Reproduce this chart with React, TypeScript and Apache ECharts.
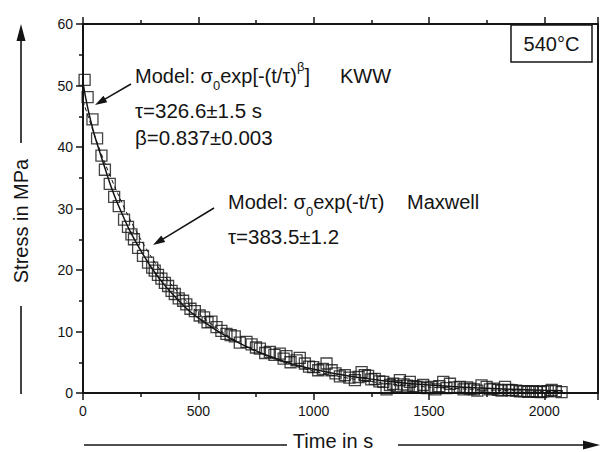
import React, { useEffect, useRef } from "react";
import * as echarts from "echarts";

// ---------- data ----------
const sampleTimes = [
  7, 20, 41, 61, 80, 95, 116, 135, 155, 178,
  195, 210, 221, 239, 260, 282, 300, 311, 325, 340,
  355, 369, 384, 398, 415, 434, 448, 466, 485, 506,
  525, 540, 557, 579, 600, 622, 640, 658, 680, 709,
  731, 750, 767, 790, 810, 830, 853, 870, 882, 900,
  926, 940, 962, 980, 998, 1020, 1040, 1056, 1078, 1095,
  1114, 1135, 1155, 1179, 1195, 1208, 1222, 1236, 1250, 1265,
  1285, 1302, 1316, 1331, 1345, 1360, 1374, 1390, 1405, 1417,
  1432, 1446, 1460, 1475, 1492, 1511, 1528, 1545, 1562, 1576,
  1591, 1610, 1634, 1650, 1665, 1678, 1695, 1710, 1728, 1750,
  1765, 1779, 1800, 1815, 1830, 1845, 1859, 1878, 1895, 1912,
  1931, 1950, 1967, 1985, 1996, 2015, 2032, 2050, 2075,
];
const sampleStress = [
  50.9, 48.1, 44.5, 41.4, 38.6, 36.3, 34.0, 31.9, 30.4, 28.2,
  27.0, 25.8, 25.0, 23.6, 22.3, 21.2, 20.4, 19.9, 19.2, 18.6,
  17.9, 17.4, 16.6, 16.1, 15.4, 15.0, 14.4, 13.7, 13.3, 12.6,
  12.3, 11.5, 11.6, 10.7, 10.1, 9.6, 9.4, 9.2, 8.2, 8.3,
  7.9, 7.4, 7.2, 6.5, 6.7, 6.2, 6.4, 5.6, 6.0, 5.0,
  5.3, 5.7, 4.8, 4.3, 4.2, 3.7, 3.9, 4.8, 3.7, 3.2,
  2.7, 2.9, 2.5, 2.1, 2.6, 3.4, 2.9, 2.8, 2.2, 2.3,
  1.9, 1.8, 0.6, 1.3, 1.5, 1.1, 2.1, 1.4, 1.2, 1.8,
  1.1, 1.0, 0.9, 1.3, 0.8, 1.0, 0.6, 1.1, 1.8, 0.8,
  1.5, 0.9, 1.0, 0.6, 0.9, 0.7, 0.6, 0.4, 1.25, 1.0,
  0.6, 0.7, 0.5, 0.4, 1.0, 0.5, 0.45, 0.4, 0.25, 0.3,
  0.2, 0.3, 0.2, 0.15, 0.25, 0.3, 0.5, 0.3, 0.15,
];

const kwwTimes = [0, 10, 25, 50, 75, 100, 125, 150, 200, 250, 300, 350, 400, 450, 500, 550, 600, 700, 800, 900, 1000, 1100, 1200, 1300, 1400, 1500, 1600, 1700, 1800, 1900, 2000, 2080];
const kwwStress = [50.5, 48.3, 45.6, 41.9, 38.9, 36.0, 33.2, 30.8, 26.6, 23.2, 20.2, 17.7, 15.6, 13.7, 12.2, 10.9, 9.7, 7.7, 6.1, 4.8, 3.85, 3.1, 2.5, 2.0, 1.6, 1.3, 1.05, 0.85, 0.7, 0.55, 0.45, 0.38];

const maxwellTimes = [0, 50, 100, 150, 200, 250, 300, 350, 400, 500, 600, 700, 800, 900, 1000, 1100, 1200, 1300, 1400, 1500, 1600, 1700, 1800, 1900, 2000, 2080];
const maxwellStress = [47.5, 41.9, 36.9, 32.5, 28.5, 25.0, 21.9, 19.2, 16.9, 13.0, 10.0, 7.7, 5.95, 4.6, 3.55, 2.75, 2.1, 1.6, 1.25, 0.95, 0.75, 0.57, 0.44, 0.34, 0.26, 0.21];

const X_MIN = 0;
const X_MAX = 2233;
const X_STEP = 500;
const Y_MIN = 0;
const Y_MAX = 60;
const Y_STEP = 10;

const yAxisTitle = "Stress in MPa";
const xAxisTitle = "Time in s";
const tempLabel = "540°C";

// ---------- styling ----------
const INK = "#141414";
const FONT = "'Liberation Sans', Arial, Helvetica, sans-serif";

const rich = {
  m: { fontSize: 20, fontFamily: FONT, fill: INK },
  sub: { fontSize: 13, fontFamily: FONT, fill: INK, padding: [18, 0, 0, 0] },
  sup: { fontSize: 13, fontFamily: FONT, fill: INK, padding: [0, 0, 20, 0] },
};

function arrowHead(x1: number, y1: number, x2: number, y2: number, len: number, half: number) {
  const dx = x2 - x1;
  const dy = y2 - y1;
  const d = Math.sqrt(dx * dx + dy * dy);
  const ux = dx / d;
  const uy = dy / d;
  const bx = x2 - ux * len;
  const by = y2 - uy * len;
  return {
    type: "polygon",
    shape: { points: [[x2, y2], [bx - uy * half, by + ux * half], [bx + uy * half, by - ux * half]] },
    style: { fill: INK },
    silent: true,
  };
}

function arrow(x1: number, y1: number, x2: number, y2: number, len: number, half: number) {
  const dx = x2 - x1;
  const dy = y2 - y1;
  const d = Math.sqrt(dx * dx + dy * dy);
  const ex = x2 - (dx / d) * (len - 1);
  const ey = y2 - (dy / d) * (len - 1);
  return [
    { type: "line", shape: { x1, y1, x2: ex, y2: ey }, style: { stroke: INK, lineWidth: 1.5 }, silent: true },
    arrowHead(x1, y1, x2, y2, len, half),
  ];
}

function txt(x: number, y: number, text: string, extra: any = {}) {
  return {
    type: "text",
    x,
    y,
    silent: true,
    style: { text, rich, fontSize: 20, fontFamily: FONT, fill: INK, align: "left", verticalAlign: "middle", ...extra },
  };
}

export default function App() {
  const ref = useRef<HTMLDivElement>(null);

  useEffect(() => {
    if (!ref.current) return;
    const chart = echarts.init(ref.current, undefined, { renderer: "svg" });

    const scatterData = sampleTimes.map((t, i) => [t, sampleStress[i]]);
    const kwwData = kwwTimes.map((t, i) => [t, kwwStress[i]]);
    const maxwellData = maxwellTimes.map((t, i) => [t, maxwellStress[i]]);

    const axisLine = { show: true, onZero: false, lineStyle: { color: INK, width: 2 } };
    const tickStyle = { color: INK, width: 1.5 };

    const option: any = {
      animation: false,
      backgroundColor: "#ffffff",
      grid: { left: 83, right: 2, top: 24, bottom: 59, containLabel: false },
      xAxis: [
        {
          type: "value",
          position: "bottom",
          min: X_MIN,
          max: X_MAX,
          interval: X_STEP,
          axisLine,
          axisTick: { show: true, inside: false, length: 7, lineStyle: tickStyle },
          minorTick: { show: true, splitNumber: 2, length: 4, lineStyle: tickStyle },
          axisLabel: {
            show: true,
            margin: 11,
            fontSize: 14,
            fontFamily: FONT,
            color: INK,
            showMaxLabel: false,
            formatter: (v: number) => String(v),
          },
          splitLine: { show: false },
          minorSplitLine: { show: false },
        },
        {
          type: "value",
          position: "top",
          min: X_MIN,
          max: X_MAX,
          interval: X_STEP,
          axisLine,
          axisTick: { show: true, inside: false, length: 7, lineStyle: tickStyle },
          minorTick: { show: true, splitNumber: 2, length: 4, lineStyle: tickStyle },
          axisLabel: { show: false },
          splitLine: { show: false },
        },
      ],
      yAxis: [
        {
          type: "value",
          position: "left",
          min: Y_MIN,
          max: Y_MAX,
          interval: Y_STEP,
          axisLine,
          axisTick: { show: true, inside: false, length: 7, lineStyle: tickStyle },
          minorTick: { show: true, splitNumber: 2, length: 4, lineStyle: tickStyle },
          axisLabel: {
            show: true,
            margin: 10,
            fontSize: 14,
            fontFamily: FONT,
            color: INK,
            formatter: (v: number) => String(v),
          },
          splitLine: { show: false },
          minorSplitLine: { show: false },
        },
        {
          type: "value",
          position: "right",
          min: Y_MIN,
          max: Y_MAX,
          interval: Y_STEP,
          axisLine,
          axisTick: { show: false },
          axisLabel: { show: false },
          splitLine: { show: false },
        },
      ],
      series: [
        {
          type: "scatter",
          name: "data",
          xAxisIndex: 0,
          yAxisIndex: 0,
          data: scatterData,
          symbol: "rect",
          symbolSize: 11,
          itemStyle: { color: "rgba(255,255,255,0)", borderColor: INK, borderWidth: 1.3 },
          silent: true,
          z: 2,
        },
        {
          type: "line",
          name: "Maxwell",
          xAxisIndex: 0,
          yAxisIndex: 0,
          data: maxwellData,
          showSymbol: false,
          smooth: 0.3,
          lineStyle: { color: INK, width: 1, type: [4, 3] },
          silent: true,
          z: 3,
        },
        {
          type: "line",
          name: "KWW",
          xAxisIndex: 0,
          yAxisIndex: 0,
          data: kwwData,
          showSymbol: false,
          smooth: 0.3,
          lineStyle: { color: INK, width: 1.5 },
          silent: true,
          z: 4,
        },
      ],
      graphic: [
        // y axis title with arrows
        { type: "line", shape: { x1: 21, y1: 143, x2: 21, y2: 38 }, style: { stroke: INK, lineWidth: 1.6 }, silent: true },
        { type: "polygon", shape: { points: [[21, 24], [16.5, 41], [25.5, 41]] }, style: { fill: INK }, silent: true },
        { type: "line", shape: { x1: 21, y1: 306, x2: 21, y2: 394 }, style: { stroke: INK, lineWidth: 1.6 }, silent: true },
        {
          type: "text",
          x: 21,
          y: 221,
          rotation: Math.PI / 2,
          silent: true,
          style: { text: yAxisTitle, fontSize: 20, fontFamily: FONT, fill: INK, align: "center", verticalAlign: "middle" },
        },
        // x axis title with arrows
        { type: "line", shape: { x1: 84, y1: 445, x2: 287, y2: 445 }, style: { stroke: INK, lineWidth: 1.6 }, silent: true },
        { type: "line", shape: { x1: 398, y1: 445, x2: 585, y2: 445 }, style: { stroke: INK, lineWidth: 1.6 }, silent: true },
        { type: "polygon", shape: { points: [[600, 445], [583, 440.5], [583, 449.5]] }, style: { fill: INK }, silent: true },
        {
          type: "text",
          x: 333,
          y: 441,
          silent: true,
          style: { text: xAxisTitle, fontSize: 20, fontFamily: FONT, fill: INK, align: "center", verticalAlign: "middle" },
        },
        // temperature box
        { type: "rect", shape: { x: 511, y: 25, width: 81, height: 37 }, style: { fill: "#fff", stroke: INK, lineWidth: 1.5 }, silent: true, z: 10 },
        {
          type: "text",
          x: 551.5,
          y: 44,
          silent: true,
          z: 11,
          style: { text: tempLabel, fontSize: 20, fontFamily: FONT, fill: INK, align: "center", verticalAlign: "middle" },
        },
        // KWW annotation
        txt(135, 76, "{m|Model: σ}{sub|0}{m|exp[-(t/τ)}{sup|β}{m|]}"),
        txt(340, 76, "KWW"),
        txt(135, 110, "τ=326.6±1.5 s", { fontSize: 20.5 }),
        txt(135, 137, "β=0.837±0.003", { fontSize: 20.5 }),
        ...arrow(131, 84, 95, 105, 12, 3.8),
        // Maxwell annotation
        txt(228, 202, "{m|Model: σ}{sub|0}{m|exp(-t/τ)}"),
        txt(407, 202, "Maxwell"),
        txt(228, 236, "τ=383.5±1.2", { fontSize: 20.5 }),
        ...arrow(214, 208, 153, 245, 12, 3.8),
      ],
    };

    chart.setOption(option);
    return () => chart.dispose();
  }, []);

  return (
    <div
      ref={ref}
      style={{ position: "fixed", left: 0, top: 0, width: 600, height: 452, background: "#fff" }}
    />
  );
}
